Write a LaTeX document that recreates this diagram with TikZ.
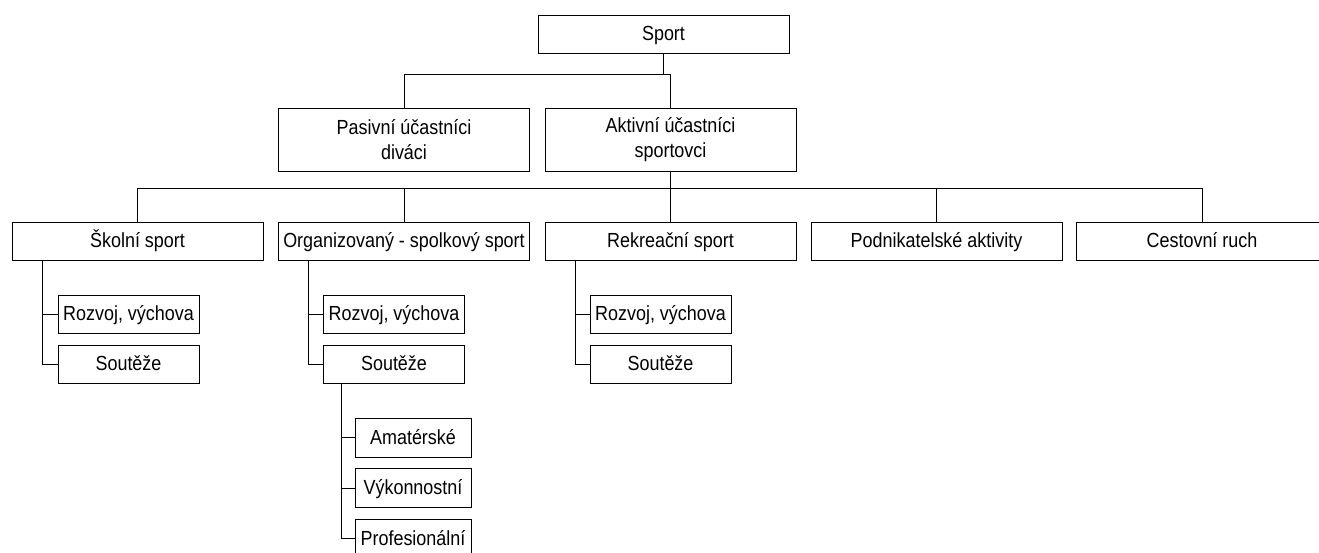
\documentclass[tikz,border=0pt]{standalone}
\usepackage{fontspec}
\setmainfont{Liberation Sans}[FakeStretch=0.88]
\begin{document}
\begin{tikzpicture}[x=1pt,y=-1pt,
  box/.style={draw=black,line width=1pt,fill=white,inner sep=0pt,align=center,
    minimum height=38pt,font=\fontsize{20.4}{25}\selectfont},
  one/.style={text height=17pt,text depth=4pt},
  big/.style={box,minimum width=251pt},
  tall/.style={big,minimum height=63pt},
  leaf/.style={box,one,minimum width=141pt},
  leafs/.style={box,one,minimum width=116pt,minimum height=39pt},
  wire/.style={draw=black,line width=1pt}]
\useasboundingbox (0,0) rectangle (1319,552);
% top levels
\node[big,one] (sport) at (663.5,34) {Sport};
\node[tall] (pas) at (404,139.5) {Pasivní účastníci\\diváci};
\node[tall] (akt) at (670.5,139.5) {Aktivní účastníci\\sportovci};
\node[big,one] (skol) at (137.5,241) {Školní sport};
\node[big,one] (org) at (404,241) {Organizovaný - spolkový sport};
\node[big,one] (rek) at (670.5,241) {Rekreační sport};
\node[big,one] (pod) at (936.5,241) {Podnikatelské aktivity};
\node[big,one] (ces) at (1202,241) {Cestovní ruch};
% leaves
\node[leaf] (kr) at (128.5,314) {Rozvoj, výchova};
\node[leaf] (ks) at (128.5,364) {Soutěže};
\node[leaf] (or) at (394,314) {Rozvoj, výchova};
\node[leaf] (os) at (394,364) {Soutěže};
\node[leaf] (rr) at (660.5,314) {Rozvoj, výchova};
\node[leaf] (rs) at (660.5,364) {Soutěže};
\node[leafs] (am) at (413,437.5) {Amatérské};
\node[leafs] (vy) at (413,488) {Výkonnostní};
\node[leafs] (pr) at (413,538.5) {Profesionální};
% buses
\coordinate (b1) at (0,74);
\coordinate (b2) at (0,188);
\draw[wire] (sport.south) -- (sport.south |- b1);
\draw[wire] (pas.north) -- (pas.north |- b1) -- (akt.north |- b1) -- (akt.north);
\draw[wire] (akt.south) -- (akt.south |- b2);
\draw[wire] (skol.north) -- (skol.north |- b2) -- (ces.north |- b2) -- (ces.north);
\draw[wire] (org.north) -- (org.north |- b2);
\draw[wire] (rek.north) -- (rek.north |- b2);
\draw[wire] (pod.north) -- (pod.north |- b2);
% sub stems
\coordinate (ks0) at ([xshift=31pt]skol.south west);
\draw[wire] (ks0) |- (ks.west);
\draw[wire] (kr.west) -- (kr.west -| ks0);
\coordinate (os0) at ([xshift=30pt]org.south west);
\draw[wire] (os0) |- (os.west);
\draw[wire] (or.west) -- (or.west -| os0);
\coordinate (rs0) at ([xshift=31pt]rek.south west);
\draw[wire] (rs0) |- (rs.west);
\draw[wire] (rr.west) -- (rr.west -| rs0);
\coordinate (ss0) at ([xshift=18pt]os.south west);
\draw[wire] (ss0) |- (pr.west);
\draw[wire] (am.west) -- (am.west -| ss0);
\draw[wire] (vy.west) -- (vy.west -| ss0);
\end{tikzpicture}
\end{document}
